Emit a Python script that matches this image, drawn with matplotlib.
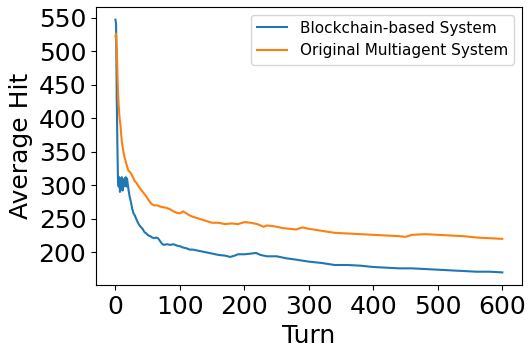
import matplotlib
matplotlib.use("Agg")
import matplotlib.pyplot as plt

blue_turns = [0, 1, 2, 3, 4, 5, 6, 7, 8, 9, 10, 11, 12, 13, 14, 15, 16, 17, 18, 20,
              22, 24, 26, 28, 30, 33, 36, 39, 42, 45, 48, 51, 54, 57, 60, 63, 66, 69,
              72, 75, 80, 85, 90, 95, 100, 105, 110, 115, 120, 125, 130, 140, 150, 160,
              170, 178, 185, 190, 200, 210, 218, 225, 235, 250, 265, 280, 300, 320, 340,
              360, 380, 400, 420, 440, 460, 480, 500, 520, 540, 560, 580, 600]
blue_hits = [547, 540, 432, 360, 305, 298, 312, 290, 308, 295, 312, 292, 305, 298, 310,
             300, 312, 298, 310, 295, 283, 275, 265, 258, 255, 248, 242, 238, 235, 230,
             228, 225, 224, 222, 221, 222, 221, 217, 213, 211, 212, 211, 212, 210, 209,
             207, 206, 204, 204, 203, 202, 200, 198, 196, 195, 193, 195, 197, 197, 198,
             199, 196, 194, 194, 191, 189, 186, 184, 181, 181, 180, 178, 177, 176, 176,
             175, 174, 173, 172, 171, 171, 170]

orange_turns = [0, 1, 2, 3, 4, 5, 6, 7, 8, 9, 10, 12, 14, 16, 18, 20, 22, 24, 27, 30,
                33, 36, 40, 44, 48, 52, 56, 60, 65, 70, 75, 80, 85, 90, 95, 100, 105,
                110, 115, 120, 130, 140, 150, 160, 170, 180, 190, 200, 210, 220, 230,
                235, 245, 260, 280, 290, 300, 320, 340, 360, 380, 400, 420, 440, 450,
                460, 480, 500, 520, 540, 560, 580, 600]
orange_hits = [522, 526, 505, 470, 440, 420, 405, 395, 388, 375, 364, 352, 342, 335, 328,
               322, 320, 318, 312, 306, 303, 298, 293, 288, 283, 277, 272, 270, 270, 268,
               267, 266, 264, 261, 259, 258, 261, 258, 255, 253, 250, 247, 244, 244, 242,
               243, 242, 245, 244, 242, 238, 240, 239, 236, 234, 237, 235, 232, 229, 228,
               227, 226, 225, 224, 223, 226, 227, 226, 225, 224, 222, 221, 220]

series_labels = ["Blockchain-based System", "Original Multiagent System"]

fig = plt.figure(figsize=(5.28, 3.51), dpi=100)
ax = fig.add_axes([0.182, 0.188, 0.806, 0.792])
ax.plot(blue_turns, blue_hits, color="tab:blue", lw=1.5, label=series_labels[0])
ax.plot(orange_turns, orange_hits, color="tab:orange", lw=1.5, label=series_labels[1])
ax.set_xticks([0, 100, 200, 300, 400, 500, 600])
ax.set_yticks([200, 250, 300, 350, 400, 450, 500, 550])
ax.tick_params(labelsize=18)
ax.set_xlabel("Turn", fontsize=18)
ax.set_ylabel("Average Hit", fontsize=18)
ax.legend(loc="upper right", fontsize=11)
fig.savefig("out.png", dpi=100)
